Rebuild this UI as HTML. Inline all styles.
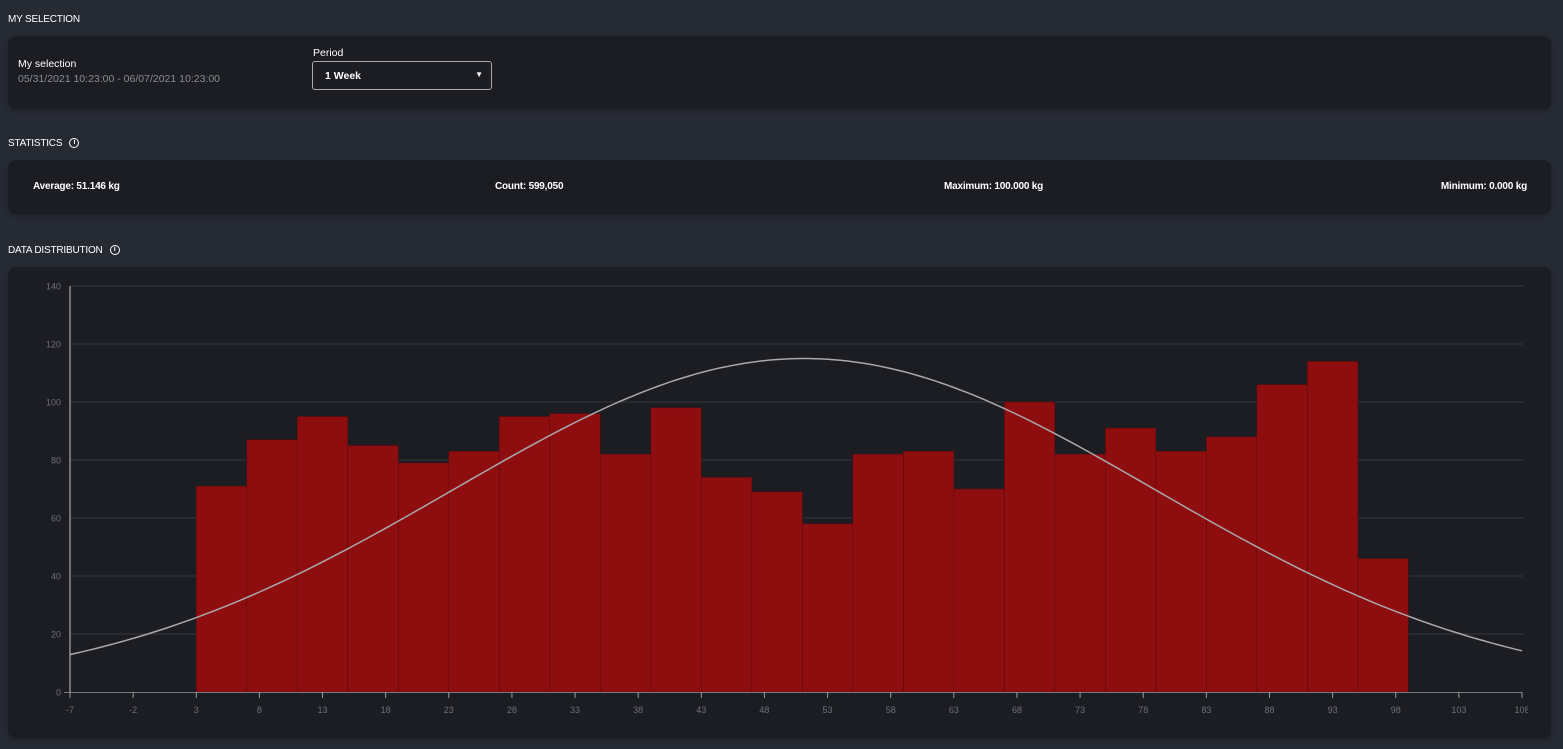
<!DOCTYPE html>
<html><head><meta charset="utf-8"><style>
*{box-sizing:border-box}body{margin:0;width:1563px;height:749px;background:#262a33;font-family:"Liberation Sans",sans-serif;color:#fff;overflow:hidden;position:relative}
.h{position:absolute;left:8px;font-size:10px;letter-spacing:-0.2px;display:flex;align-items:center;height:12px}
.card{position:absolute;left:8px;width:1543px;background:#1c1d22;border-radius:8px;box-shadow:0 2px 4px rgba(0,0,0,.25)}
.i{display:inline-block;width:10px;height:10px;border:1.3px solid #fff;border-radius:50%;font-size:7px;text-align:center;line-height:8px;margin-left:7px;font-weight:bold}
.s{position:absolute;top:21px;font-size:10px;font-weight:600;letter-spacing:-0.2px}
</style></head><body>
<div class="h" style="top:13px">MY SELECTION</div>
<div class="card" style="top:36px;height:73px">
 <div style="position:absolute;left:10px;top:22px;font-size:10.5px">My selection</div>
 <div style="position:absolute;left:10px;top:37px;font-size:10.5px;color:#8a8c92">05/31/2021 10:23:00 - 06/07/2021 10:23:00</div>
 <div style="position:absolute;left:305px;top:11px;font-size:10.5px">Period</div>
 <div style="position:absolute;left:304px;top:25px;width:180px;height:29px;border:1px solid #aaa;border-radius:3px;font-size:10.5px;padding:8px 12px;font-weight:600">1 Week<span style="position:absolute;right:8px;top:8px;font-size:8px">▼</span></div>
</div>
<div class="h" style="top:137px">STATISTICS<span class="i">i</span></div>
<div class="card" style="top:160px;height:54px">
 <div class="s" style="left:25px">Average: 51.146 kg</div>
 <div class="s" style="left:487px">Count: 599,050</div>
 <div class="s" style="left:936px">Maximum: 100.000 kg</div>
 <div class="s" style="right:24px">Minimum: 0.000 kg</div>
</div>
<div class="h" style="top:244px">DATA DISTRIBUTION<span class="i">i</span></div>
<div class="card" style="top:267px;height:471px"></div>
<svg id="chart" width="1528" height="749" style="position:absolute;left:0;top:0"></svg>
<script>
const binStarts=[3,7,11,15,19,23,27,31,35,39,43,47,51,55,59,63,67,71,75,79,83,87,91,95];
const counts=[71,87,95,85,79,83,95,96,82,98,74,69,58,82,83,70,100,82,91,83,88,106,114,46];
const binWidth=4;
const xTicks=[-7,-2,3,8,13,18,23,28,33,38,43,48,53,58,63,68,73,78,83,88,93,98,103,108];
const yTicks=[0,20,40,60,80,100,120,140];
const curveMean=[51.146];
const curveSd=[27.8];
const curvePeak=[115];
const NS='http://www.w3.org/2000/svg',svg=document.getElementById('chart');
const X0=70,X1=1522,Y0=692,Y1=286;
const xs=v=>X0+(v-xTicks[0])/(xTicks[xTicks.length-1]-xTicks[0])*(X1-X0);
const ys=v=>Y0-(v-yTicks[0])/(yTicks[yTicks.length-1]-yTicks[0])*(Y0-Y1);
function mk(t,a,p){const e=document.createElementNS(NS,t);for(const k in a)e.setAttribute(k,a[k]);(p||svg).appendChild(e);return e;}
yTicks.forEach(v=>{
 if(v>0){const g=mk('line',{x1:X0,x2:X1+1,y1:ys(v),y2:ys(v),stroke:'#34363d','stroke-width':1});
 
 }
 const t=mk('text',{x:X0-9,y:ys(v)+3.5,'text-anchor':'end','font-size':9,fill:'#6e7077'});t.textContent=v;
 
 
});
counts.forEach((c,i)=>{
 const r=mk('rect',{x:xs(binStarts[i]),y:ys(c),width:xs(binStarts[i]+binWidth)-xs(binStarts[i]),height:ys(0)-ys(c),fill:'#8e0e10',stroke:'#5a0a0c','stroke-width':0.6});
 
 
});
let d='';for(let v=xTicks[0];v<=xTicks[xTicks.length-1];v+=0.5){const y=curvePeak[0]*Math.exp(-Math.pow(v-curveMean[0],2)/(2*curveSd[0]*curveSd[0]));d+=(d?'L':'M')+xs(v).toFixed(1)+','+ys(y).toFixed(1);}
const p=mk('path',{d:d,fill:'none',stroke:'#a9a9ab','stroke-width':1.5});


const ax=mk('line',{x1:X0,x2:X0,y1:Y1,y2:Y0+6,stroke:'#c8c8c8','stroke-width':1});


const bx=mk('line',{x1:X0-6,x2:X1,y1:Y0+.5,y2:Y0+.5,stroke:'#77797f','stroke-width':1});


xTicks.forEach(v=>{
 const tk=mk('line',{x1:xs(v),x2:xs(v),y1:Y0,y2:Y0+6,stroke:'#9a9ca0','stroke-width':1});
 
 
 const t=mk('text',{x:xs(v),y:Y0+21,'text-anchor':'middle','font-size':9,fill:'#6e7077'});t.textContent=v;
 
 
});
</script>
</body></html>
